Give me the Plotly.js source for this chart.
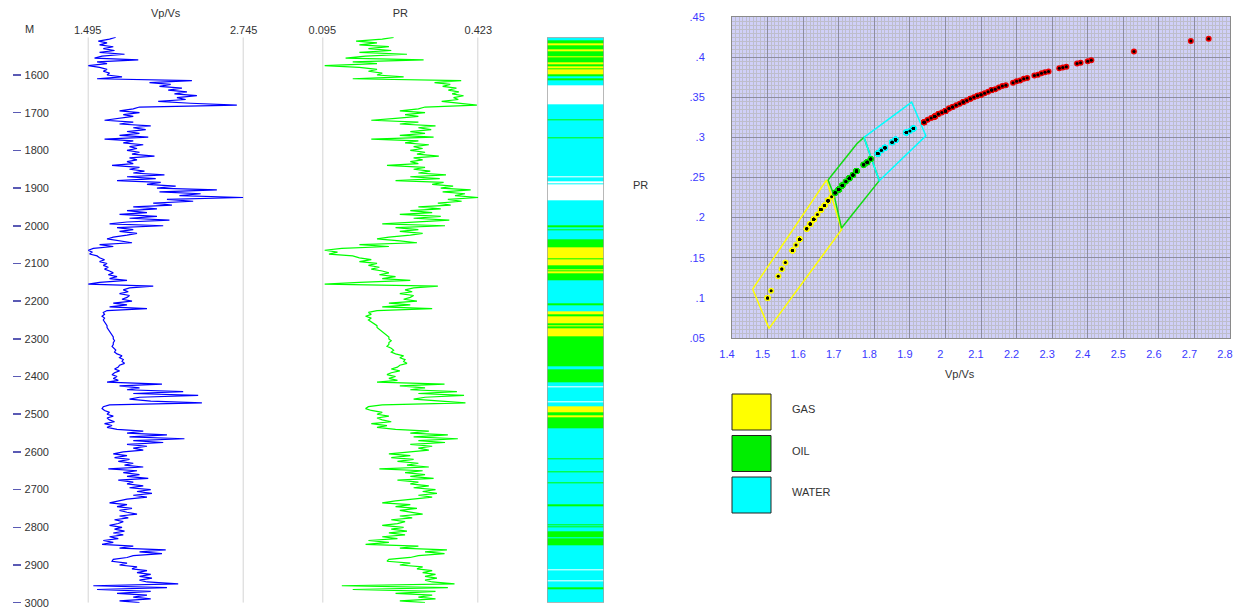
<!DOCTYPE html>
<html>
<head>
<meta charset="utf-8">
<script src="https://cdn.plot.ly/plotly-3.0.1.min.js"></script>
<style>
  html, body { margin: 0; padding: 0; background: #ffffff; }
  #chart { width: 1237px; height: 611px; }
</style>
</head>
<body>
<div id="chart"></div>
<script>
// ---- Well log samples (5 m sampling from 1500 m) ----
const depthTop = 1500;
const depthStep = 5;

const vpvs = [
  1.72,1.67,1.58,1.65,1.59,1.70,1.62,1.71,1.59,1.79,
  1.61,1.55,1.90,1.57,1.65,1.50,1.59,1.65,1.62,1.67,
  1.65,1.77,1.57,2.33,1.99,2.16,2.07,2.25,2.14,2.29,
  2.19,2.37,2.21,2.28,2.06,2.32,2.69,1.91,1.86,1.75,
  1.91,1.78,1.86,1.73,1.63,1.86,1.75,2.00,1.86,1.96,
  1.81,1.91,1.75,1.98,1.63,1.86,1.78,1.94,1.83,1.89,
  1.81,1.91,1.85,2.03,1.83,1.89,1.81,1.86,1.69,1.91,
  1.83,1.95,1.86,2.11,1.81,2.04,1.73,2.08,1.97,2.20,
  2.05,2.53,2.07,2.40,2.23,2.74,2.13,2.34,2.02,2.17,
  1.86,2.05,1.81,1.97,1.75,2.05,1.83,2.15,1.81,1.67,
  2.10,1.73,1.86,1.75,1.89,1.81,1.70,1.65,1.75,1.85,
  1.59,1.70,1.54,1.50,1.53,1.51,1.57,1.59,1.63,1.59,
  1.65,1.62,1.66,1.63,1.67,1.70,1.66,1.73,1.67,1.81,
  1.59,1.50,2.02,1.83,1.78,1.82,1.75,1.83,1.81,1.77,
  1.85,1.70,1.81,1.67,1.97,1.65,1.62,1.63,1.61,1.63,
  1.62,1.63,1.64,1.65,1.65,1.66,1.67,1.68,1.69,1.70,
  1.70,1.71,1.70,1.70,1.69,1.71,1.72,1.71,1.73,1.77,
  1.75,1.78,1.77,1.79,1.75,1.74,1.71,1.75,1.71,1.69,
  1.73,1.70,1.74,1.65,2.09,1.75,1.91,1.81,2.26,1.86,
  2.38,1.91,1.83,2.00,2.41,1.67,1.62,1.61,1.63,1.67,
  1.65,1.70,1.65,1.67,1.71,1.63,1.69,1.65,1.73,1.94,
  1.81,2.13,1.83,2.27,1.86,2.10,1.81,1.97,1.86,1.94,
  1.78,1.70,1.81,1.71,1.83,1.74,1.86,1.79,1.94,1.66,
  1.89,1.78,1.91,1.81,1.98,1.74,1.86,1.81,1.94,1.83,
  2.00,1.89,2.01,1.86,1.97,1.81,1.73,1.67,1.81,1.73,
  1.85,1.75,1.81,1.89,1.75,1.82,1.71,1.78,1.74,1.67,
  1.77,1.71,1.79,1.70,1.78,1.67,1.74,1.62,1.70,1.61,
  1.86,1.75,2.12,1.91,2.09,1.86,1.81,1.70,1.69,1.81,
  1.75,1.89,1.85,1.97,1.89,2.00,1.91,2.01,1.91,1.97,
  2.22,1.54,2.13,1.57,2.00,1.73,1.97,1.86,2.00,1.75,
  1.91
];

const pr = [
  0.245,0.221,0.166,0.210,0.173,0.235,0.192,0.240,0.173,0.273,
  0.186,0.144,0.308,0.159,0.210,0.100,0.173,0.210,0.192,0.221,
  0.210,0.266,0.159,0.387,0.331,0.364,0.348,0.377,0.360,0.382,
  0.368,0.392,0.371,0.381,0.346,0.386,0.420,0.311,0.297,0.258,
  0.311,0.269,0.297,0.249,0.198,0.297,0.258,0.333,0.297,0.324,
  0.280,0.311,0.258,0.329,0.198,0.297,0.269,0.319,0.287,0.306,
  0.280,0.311,0.294,0.340,0.287,0.306,0.280,0.297,0.231,0.311,
  0.287,0.322,0.297,0.355,0.280,0.342,0.249,0.350,0.326,0.370,
  0.344,0.407,0.348,0.395,0.374,0.423,0.359,0.388,0.338,0.365,
  0.297,0.344,0.280,0.326,0.258,0.344,0.287,0.362,0.280,0.221,
  0.353,0.249,0.297,0.258,0.306,0.280,0.235,0.210,0.258,0.294,
  0.173,0.235,0.136,0.100,0.127,0.109,0.159,0.173,0.198,0.173,
  0.210,0.192,0.215,0.198,0.221,0.235,0.215,0.249,0.221,0.280,
  0.173,0.100,0.338,0.287,0.269,0.284,0.258,0.287,0.280,0.266,
  0.294,0.235,0.280,0.221,0.326,0.210,0.192,0.198,0.186,0.198,
  0.192,0.198,0.204,0.210,0.210,0.215,0.221,0.226,0.231,0.235,
  0.235,0.240,0.235,0.235,0.231,0.240,0.245,0.240,0.249,0.266,
  0.258,0.269,0.266,0.273,0.258,0.253,0.240,0.258,0.240,0.231,
  0.249,0.235,0.253,0.210,0.352,0.258,0.311,0.280,0.378,0.297,
  0.393,0.311,0.287,0.333,0.396,0.221,0.192,0.186,0.198,0.221,
  0.210,0.235,0.210,0.221,0.240,0.198,0.231,0.210,0.249,0.319,
  0.280,0.359,0.287,0.380,0.297,0.353,0.280,0.326,0.297,0.319,
  0.269,0.235,0.280,0.240,0.287,0.253,0.297,0.273,0.319,0.215,
  0.306,0.269,0.311,0.280,0.329,0.253,0.297,0.280,0.319,0.287,
  0.333,0.306,0.336,0.297,0.326,0.280,0.249,0.221,0.280,0.249,
  0.294,0.258,0.280,0.306,0.258,0.284,0.240,0.269,0.253,0.221,
  0.266,0.240,0.273,0.235,0.269,0.221,0.253,0.192,0.235,0.186,
  0.297,0.258,0.357,0.311,0.352,0.297,0.280,0.235,0.231,0.280,
  0.258,0.306,0.294,0.326,0.306,0.333,0.311,0.336,0.311,0.326,
  0.373,0.136,0.359,0.159,0.333,0.249,0.326,0.297,0.333,0.258,
  0.311
];

// ---- Fluid flag column: zone tops (m) and codes (0 none, 1 water, 2 oil, 3 gas) ----
const fluidTop = [
  1500,1507,1517,1520,1533,1536,1550,1553,1565,1571,1578,1582,1584,1597,1603,1610,1613,1627,
  1678,1717,1720,1765,1769,1870,1872,1883,1886,1889,1932,1937,1939,1998,2004,2009,2011,2036,
  2057,2086,2089,2104,2115,2118,2121,2125,2144,2206,2211,2228,2234,2239,2259,2263,2268,2272,
  2293,2372,2381,2416,2425,2428,2465,2469,2478,2496,2502,2508,2536,2560,2562,2617,2620,2651,
  2653,2680,2684,2740,2743,2791,2794,2798,2801,2810,2827,2830,2847,2911,2914,2940,2943,2960,
  2964,2966,2967
];
const fluidCode = [
  1,2,3,2,3,2,3,2,3,2,3,2,3,2,1,2,1,0,
  1,2,1,2,1,0,1,0,1,0,1,0,1,2,1,2,1,2,
  3,2,3,2,3,2,3,2,1,2,1,3,2,3,2,3,2,3,
  2,1,2,1,0,1,0,1,3,2,3,2,1,0,1,2,1,2,
  1,2,1,2,1,2,1,2,1,2,1,2,1,0,1,0,1,2,
  1,2,1
];
const logBase = 3000;

// ---- Depth scale ----
const depthRange = [3000, 1500];
const depthTicks = [1600,1700,1800,1900,2000,2100,2200,2300,2400,2500,2600,2700,2800,2900,3000];

// ---- Track scales ----
const vpvsScale = [1.495, 2.745];
const prScale = [0.095, 0.423];

// ---- Crossplot scales ----
const crossRangeX = [1.4, 2.8];
const crossRangeY = [0.05, 0.45];
const crossTickX = [1.4,1.5,1.6,1.7,1.8,1.9,2.0,2.1,2.2,2.3,2.4,2.5,2.6,2.7,2.8];
const crossTickY = [0.05,0.10,0.15,0.20,0.25,0.30,0.35,0.40,0.45];
const crossTickYText = ['.05','.1','.15','.2','.25','.3','.35','.4','.45'];

// ---- Fluid zones on the Vp/Vs – PR crossplot ----
const gasZoneVpVs   = [1.458, 1.666, 1.708, 1.504, 1.458];
const gasZonePR     = [0.111, 0.247, 0.185, 0.062, 0.111];
const oilZoneVpVs   = [1.670, 1.751, 1.771, 1.814, 1.708, 1.687, 1.670];
const oilZonePR     = [0.247, 0.292, 0.300, 0.246, 0.187, 0.228, 0.247];
const waterZoneVpVs = [1.771, 1.905, 1.945, 1.814, 1.771];
const waterZonePR   = [0.300, 0.344, 0.302, 0.246, 0.300];

const legendNames  = ['GAS', 'OIL', 'WATER'];
const legendColors = ['#ffff00', '#00ee00', '#00ffff'];

// ---- Derived arrays ----
const depth = vpvs.map((_, i) => depthTop + i * depthStep);
const fluidBounds = fluidTop.concat([logBase]);

function insidePoly(px, py, xs, ys) {
  let c = false;
  for (let i = 0, j = xs.length - 1; i < xs.length; j = i++) {
    if (((ys[i] > py) !== (ys[j] > py)) &&
        (px < (xs[j] - xs[i]) * (py - ys[i]) / (ys[j] - ys[i]) + xs[i])) c = !c;
  }
  return c;
}
const haloColor = vpvs.map((v, i) => {
  const p = pr[i];
  if (insidePoly(v, p, waterZoneVpVs, waterZonePR)) return '#00ffff';
  if (insidePoly(v, p, oilZoneVpVs, oilZonePR)) return '#00e000';
  if (insidePoly(v, p, gasZoneVpVs, gasZonePR)) return '#ffff00';
  return '#ee0000';
});

const font = 'Liberation Sans, Arial, sans-serif';
const textGrey = '#333333';
const tickBlue = '#3a3aff';

const traces = [
  { type: 'scatter', mode: 'lines', x: vpvs, y: depth, xaxis: 'x', yaxis: 'y',
    line: { color: '#0000ff', width: 1.2 }, hoverinfo: 'skip' },
  { type: 'scatter', mode: 'lines', x: pr, y: depth, xaxis: 'x2', yaxis: 'y',
    line: { color: '#00ff00', width: 1.2 }, hoverinfo: 'skip' },
  { type: 'heatmap', x: [0, 1], y: fluidBounds, z: fluidCode.map(c => [c]),
    xaxis: 'x3', yaxis: 'y', zmin: 0, zmax: 3, showscale: false, hoverinfo: 'skip',
    colorscale: [[0, '#ffffff'], [0.1667, '#ffffff'], [0.1667, '#00ffff'], [0.5, '#00ffff'],
                 [0.5, '#00ff00'], [0.8333, '#00ff00'], [0.8333, '#ffff00'], [1, '#ffff00']] },
  { type: 'scatter', mode: 'lines', x: [], y: [], xaxis: 'x', yaxis: 'y5', hoverinfo: 'skip' },
  { type: 'scatter', mode: 'lines', x: gasZoneVpVs, y: gasZonePR, xaxis: 'x4', yaxis: 'y4',
    line: { color: '#ffff00', width: 1.5 }, hoverinfo: 'skip' },
  { type: 'scatter', mode: 'lines', x: oilZoneVpVs, y: oilZonePR, xaxis: 'x4', yaxis: 'y4',
    line: { color: '#11dd11', width: 1.5 }, hoverinfo: 'skip' },
  { type: 'scatter', mode: 'lines', x: waterZoneVpVs, y: waterZonePR, xaxis: 'x4', yaxis: 'y4',
    line: { color: '#00ffff', width: 1.5 }, hoverinfo: 'skip' },
  { type: 'scatter', mode: 'markers', x: vpvs, y: pr, xaxis: 'x4', yaxis: 'y4',
    marker: { color: haloColor, size: 6, line: { width: 0 } }, hoverinfo: 'skip' },
  { type: 'scatter', mode: 'markers', x: vpvs, y: pr, xaxis: 'x4', yaxis: 'y4',
    marker: { color: '#000000', size: 3, line: { width: 0 } }, hoverinfo: 'skip' }
];

const W = 1237, H = 611;
const px = v => v / W;
const py = v => 1 - v / H;

const trackAxis = (domain, range, title) => ({
  domain: domain, range: range, anchor: 'y', side: 'top',
  tickmode: 'array', tickvals: range, ticktext: range.map(v => v.toFixed(3)),
  ticks: '', showgrid: false, zeroline: false, showline: false, fixedrange: true,
  ticklabeloverflow: 'allow',
  tickfont: { family: font, size: 11, color: textGrey },
  title: { text: title, font: { family: font, size: 11, color: textGrey }, standoff: 4 }
});

const shapes = [
  // crossplot background
  { type: 'rect', xref: 'x4', yref: 'y4', layer: 'below',
    x0: crossRangeX[0], x1: crossRangeX[1], y0: crossRangeY[0], y1: crossRangeY[1],
    fillcolor: '#d0d0f8', line: { width: 0 } },
  // fluid column frame
  { type: 'rect', xref: 'x3', yref: 'y', layer: 'above',
    x0: 0, x1: 1, y0: depthRange[1], y1: depthRange[0],
    line: { color: '#a0a0a0', width: 1.5 } }
];
// scale limit lines of the two log tracks
[['x', vpvsScale], ['x2', prScale]].forEach(([ax, sc]) => {
  sc.forEach(v => shapes.push({ type: 'line', xref: ax, yref: 'y', layer: 'below',
    x0: v, x1: v, y0: depthRange[1], y1: depthRange[0],
    line: { color: '#d4d4d4', width: 2 } }));
});
legendNames.forEach((name, i) => {
  const top = 394 + i * 41.5;
  shapes.push({ type: 'rect', xref: 'paper', yref: 'paper',
    x0: px(732), x1: px(771), y0: py(top + 36), y1: py(top),
    fillcolor: legendColors[i], line: { color: '#222222', width: 1 } });
});

const note = (text, x, y, xanchor) => ({
  text: text, xref: 'paper', yref: 'paper', x: px(x), y: py(y),
  xanchor: xanchor || 'center', yanchor: 'middle', showarrow: false,
  font: { family: font, size: 11, color: textGrey }
});
const annotations = [
  note('M', 29, 29),
  note('Vp/Vs', 960, 374),
  note('PR', 641, 185)
];
legendNames.forEach((name, i) => {
  annotations.push(note(name, 790, 409 + i * 41.5, 'left'));
});

const depthDomain = [py(602.7), py(37.3)];

const layout = {
  width: W, height: H,
  margin: { l: 0, r: 0, t: 0, b: 0 },
  paper_bgcolor: '#ffffff', plot_bgcolor: '#ffffff',
  showlegend: false, hovermode: false,
  font: { family: font, size: 11, color: textGrey },
  yaxis: {
    domain: depthDomain, range: depthRange, anchor: 'free', position: px(21),
    tickmode: 'array', tickvals: depthTicks, ticks: 'outside', ticklen: 8, tickwidth: 1.5,
    tickcolor: '#5a5ab4', showticklabels: false, showgrid: false, zeroline: false,
    showline: false, fixedrange: true
  },
  yaxis5: {
    overlaying: 'y', range: depthRange, anchor: 'free', position: px(49),
    tickmode: 'array', tickvals: depthTicks, ticks: '', showgrid: false, zeroline: false,
    showline: false, fixedrange: true, ticklabeloverflow: 'allow',
    tickfont: { family: font, size: 11, color: textGrey }
  },
  xaxis: trackAxis([px(87.7), px(243.7)], vpvsScale, 'Vp/Vs'),
  xaxis2: trackAxis([px(322.3), px(478.3)], prScale, 'PR'),
  xaxis3: { domain: [px(547), px(604)], range: [0, 1], anchor: 'y', visible: false, fixedrange: true },
  xaxis4: {
    domain: [px(732), px(1230)], range: crossRangeX, anchor: 'y4',
    tickmode: 'array', tickvals: crossTickX, ticks: '', ticklabelstandoff: 6,
    ticklabelshift: -5, ticklabeloverflow: 'allow',
    showgrid: true, gridcolor: '#8e8e9e', gridwidth: 1,
    minor: { tickmode: 'linear', tick0: 1.4, dtick: 0.01, showgrid: true, gridcolor: '#bebecc', gridwidth: 1, ticks: '' },
    showline: true, mirror: true, linecolor: '#8a8a8a', linewidth: 1,
    zeroline: false, fixedrange: true,
    tickfont: { family: font, size: 11, color: tickBlue }
  },
  yaxis4: {
    domain: [py(338), py(17)], range: crossRangeY, anchor: 'x4',
    tickmode: 'array', tickvals: crossTickY, ticktext: crossTickYText, ticks: '',
    ticklabelstandoff: 24, ticklabeloverflow: 'allow',
    showgrid: true, gridcolor: '#8e8e9e', gridwidth: 1,
    minor: { tickmode: 'linear', tick0: 0.05, dtick: 0.005, showgrid: true, gridcolor: '#bebecc', gridwidth: 1, ticks: '' },
    showline: true, mirror: true, linecolor: '#8a8a8a', linewidth: 1,
    zeroline: false, fixedrange: true,
    tickfont: { family: font, size: 11, color: tickBlue }
  },
  shapes: shapes,
  annotations: annotations
};

Plotly.newPlot('chart', traces, layout, { staticPlot: true, displayModeBar: false });
</script>
</body>
</html>
